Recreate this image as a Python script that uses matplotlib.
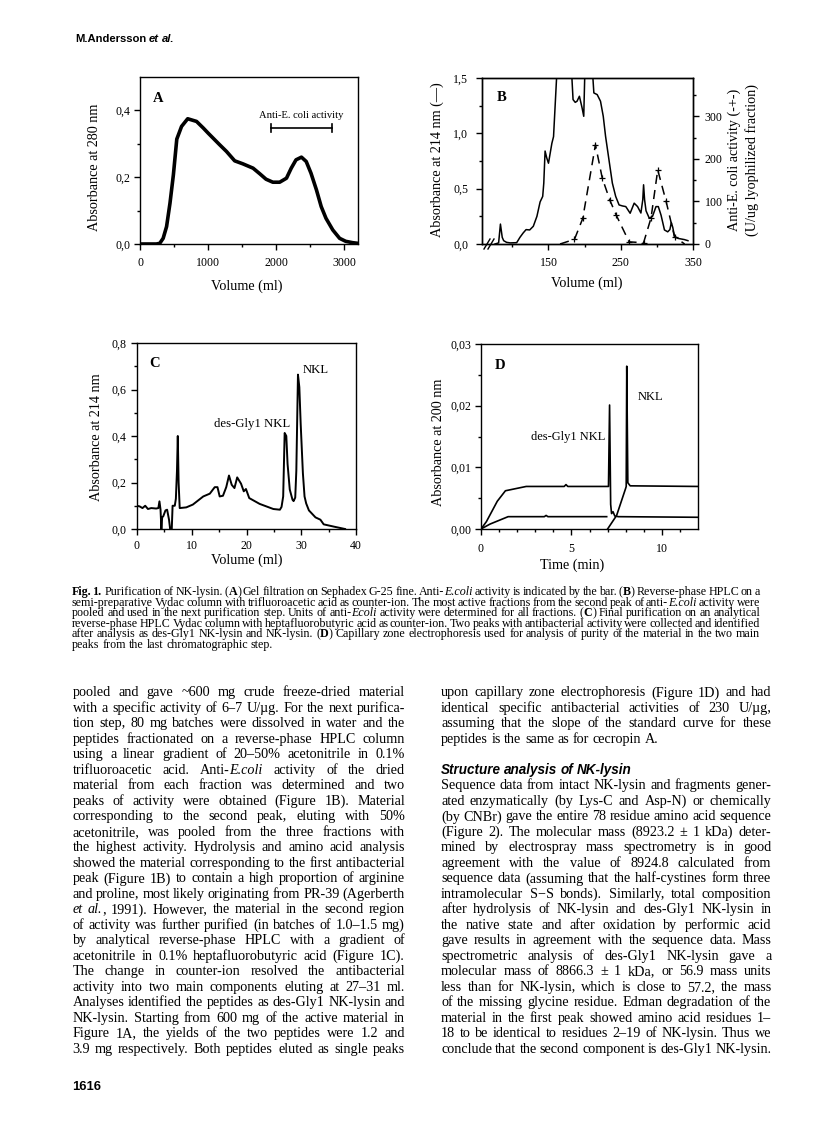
import matplotlib
matplotlib.use("Agg")
import matplotlib.pyplot as plt
from matplotlib.lines import Line2D
from matplotlib.ticker import FixedLocator, FixedFormatter

W, H = 816, 1121
SERIF = "Liberation Serif"
SANS = "Liberation Sans"
plt.rcParams["font.family"] = [SERIF, "DejaVu Serif"]
plt.rcParams["axes.linewidth"] = 1.0

# ---- Panel A: gel filtration on Sephadex G-25
vol_a = [0, 240, 290, 340, 390, 440, 490, 540, 610, 700, 830, 930, 1000, 1170,
         1270, 1390, 1510, 1660, 1760, 1850, 1950, 2050, 2150, 2220, 2290, 2370,
         2440, 2510, 2590, 2660, 2730, 2830, 2930, 3020, 3120, 3200]
abs_a = [0, 0, 0.002, 0.017, 0.052, 0.122, 0.207, 0.314, 0.352, 0.375, 0.367,
         0.347, 0.332, 0.297, 0.277, 0.249, 0.24, 0.227, 0.21, 0.194, 0.185,
         0.185, 0.197, 0.227, 0.252, 0.26, 0.247, 0.212, 0.162, 0.112, 0.077,
         0.042, 0.017, 0.008, 0.004, 0.002]
activity_a = (1917, 2820)   # anti-E. coli activity range (ml)
activity_a_level = 0.347

# ---- Panel B: reverse-phase HPLC, absorbance and activity
vol_b = [76, 81, 83.5, 86, 88, 92, 97, 106, 110.5, 115, 119, 124, 129, 134, 138.4,
         142, 143.5, 145.3, 147.5, 150, 154.7, 157, 161.6, 170, 180, 184, 187,
         189.5, 192.8, 196.5, 198.8, 200.5, 205, 210.5, 212.8, 217.4, 222, 225.8,
         229, 233.7, 238.4, 243, 247.7, 252.3, 257, 263, 268.6, 273.3, 277.9,
         280.5, 281.6, 283, 285, 289.5, 294, 298.8, 302, 305.8, 310.5, 315, 318,
         320, 322, 324.4, 329, 338, 343]
abs_b = [0.0, 0.01, 0.18, 0.06, 0.03, 0.015, 0.01, 0.012, 0.06, 0.10, 0.13, 0.127,
         0.16, 0.25, 0.38, 0.43, 0.55, 0.84, 0.78, 0.73, 0.91, 0.97, 1.55, 1.9,
         1.8, 1.305, 1.28, 1.29, 1.335, 1.23, 1.154, 1.6, 1.8, 1.6, 1.365, 1.35,
         1.29, 1.154, 0.973, 0.761, 0.55, 0.43, 0.353, 0.344, 0.338, 0.278, 0.369,
         0.338, 0.28, 0.40, 0.535, 0.40, 0.30, 0.233, 0.25, 0.338, 0.338, 0.26,
         0.127, 0.11, 0.13, 0.193, 0.15, 0.07, 0.051, 0.04, 0.03]
vol_act = [166, 186, 197.4, 215, 224.4, 234.7, 244, 261.6, 281.6, 291.9, 301.2,
           312.8, 324.4, 338.4]
act_b = [0, 11, 60, 233, 155, 104, 67, 5, 3, 61, 174, 100, 17, 0]

# ---- Panel C: analytical reverse-phase HPLC
vol_c = [0, 0.5, 1.0, 1.5, 2.0, 2.6, 3.5, 3.9, 4.1, 4.3, 4.45, 4.6, 4.8, 5.2, 5.5,
         5.85, 6.05, 6.35, 6.5, 6.9, 7.1, 7.3, 7.45, 7.6, 7.8, 9.0, 10.2, 12.1,
         13.3, 14.2, 14.7, 15.1, 15.7, 16.3, 16.8, 17.3, 17.8, 18.3, 19.0, 19.5,
         19.9, 20.5, 22.4, 24.9, 26.1, 26.4, 26.7, 26.97, 27.27, 27.5, 27.9, 28.4,
         28.6, 28.9, 29.1, 29.4, 29.65, 29.9, 30.3, 30.6, 30.9, 31.4, 32.6, 33.5,
         34.1, 36.0, 38.0]
abs_c = [0.10, 0.097, 0.09, 0.10, 0.086, 0.09, 0.088, 0.09, 0.119, 0.083, 0.0,
         0.05, 0.055, 0.08, 0.083, 0.04, 0.0, 0.0, 0.10, 0.10, 0.13, 0.25, 0.40,
         0.2, 0.09, 0.093, 0.105, 0.14, 0.152, 0.18, 0.18, 0.14, 0.143, 0.18, 0.23,
         0.19, 0.176, 0.222, 0.195, 0.162, 0.172, 0.133, 0.108, 0.086, 0.083,
         0.095, 0.14, 0.413, 0.40, 0.28, 0.17, 0.126, 0.12, 0.135, 0.25, 0.664,
         0.61, 0.45, 0.24, 0.14, 0.11, 0.08, 0.05, 0.04, 0.02, 0.01, 0.0]

# ---- Panel D: capillary zone electrophoresis (three trace pieces)
t_d1 = [0, 0.3, 0.9, 1.35, 2.5, 4.6, 4.7, 4.8, 7.05, 7.11, 7.17, 7.22, 7.3, 7.4, 7.6, 12]
y_d1 = [0, 0.0012, 0.0045, 0.0062, 0.0069, 0.0069, 0.0072, 0.0069, 0.0069, 0.0201,
        0.004, 0.0025, 0.0028, 0.0021, 0.002, 0.0019]
t_d2 = [0, 0.5, 1.5, 3.5, 3.6, 3.7, 6.95]
y_d2 = [0, 0.0008, 0.002, 0.002, 0.0022, 0.002, 0.002]
t_d3 = [7.0, 7.5, 8.0, 8.03, 8.06, 8.12, 8.25, 12]
y_d3 = [0, 0.0022, 0.0066, 0.0069, 0.0264, 0.0075, 0.007, 0.0069]

# ---- tick labels (decimal comma as printed)
yt_a = [0, 0.2, 0.4]
yl_a = ["0,0", "0,2", "0,4"]
yt_b = [0, 0.5, 1.0, 1.5]
yl_b = ["0,0", "0,5", "1,0", "1,5"]
yt_c = [0, 0.2, 0.4, 0.6, 0.8]
yl_c = ["0,0", "0,2", "0,4", "0,6", "0,8"]
yt_d = [0, 0.01, 0.02, 0.03]
yl_d = ["0,00", "0,01", "0,02", "0,03"]

# ---- page text ('_' toggles italic, '*' toggles bold)
HEADER = "M.Andersson _et_ _al._"
CAPTION = [
    "*Fig.* *1.* Purification of NK-lysin. (*A*) Gel filtration on Sephadex G-25 fine. Anti-_E.coli_ activity is indicated by the bar. (*B*) Reverse-phase HPLC on a",
    "semi-preparative Vydac column with trifluoroacetic acid as counter-ion. The most active fractions from the second peak of anti-_E.coli_ activity were",
    "pooled and used in the next purification step. Units of anti-_Ecoli_ activity were determined for all fractions. (*C*) Final purification on an analytical",
    "reverse-phase HPLC Vydac column with heptafluorobutyric acid as counter-ion. Two peaks with antibacterial activity were collected and identified",
    "after analysis as des-Gly1 NK-lysin and NK-lysin. (*D*) Capillary zone electrophoresis used for analysis of purity of the material in the two main",
    "peaks from the last chromatographic step.",
]
LEFT = [
    "pooled and gave ~600 mg crude freeze-dried material",
    "with a specific activity of 6–7 U/µg. For the next purifica-",
    "tion step, 80 mg batches were dissolved in water and the",
    "peptides fractionated on a reverse-phase HPLC column",
    "using a linear gradient of 20–50% acetonitrile in 0.1%",
    "trifluoroacetic acid. Anti-_E.coli_ activity of the dried",
    "material from each fraction was determined and two",
    "peaks of activity were obtained (Figure 1B). Material",
    "corresponding to the second peak, eluting with 50%",
    "acetonitrile, was pooled from the three fractions with",
    "the highest activity. Hydrolysis and amino acid analysis",
    "showed the material corresponding to the first antibacterial",
    "peak (Figure 1B) to contain a high proportion of arginine",
    "and proline, most likely originating from PR-39 (Agerberth",
    "_et_ _al._, 1991). However, the material in the second region",
    "of activity was further purified (in batches of 1.0–1.5 mg)",
    "by analytical reverse-phase HPLC with a gradient of",
    "acetonitrile in 0.1% heptafluorobutyric acid (Figure 1C).",
    "The change in counter-ion resolved the antibacterial",
    "activity into two main components eluting at 27–31 ml.",
    "Analyses identified the peptides as des-Gly1 NK-lysin and",
    "NK-lysin. Starting from 600 mg of the active material in",
    "Figure 1A, the yields of the two peptides were 1.2 and",
    "3.9 mg respectively. Both peptides eluted as single peaks",
]
RIGHT_TOP = [
    "upon capillary zone electrophoresis (Figure 1D) and had",
    "identical specific antibacterial activities of 230 U/µg,",
    "assuming that the slope of the standard curve for these",
    "peptides is the same as for cecropin A.",
]
HEADING = "Structure analysis of NK-lysin"
RIGHT_BOTTOM = [
    "Sequence data from intact NK-lysin and fragments gener-",
    "ated enzymatically (by Lys-C and Asp-N) or chemically",
    "(by CNBr) gave the entire 78 residue amino acid sequence",
    "(Figure 2). The molecular mass (8923.2 ± 1 kDa) deter-",
    "mined by electrospray mass spectrometry is in good",
    "agreement with the value of 8924.8 calculated from",
    "sequence data (assuming that the half-cystines form three",
    "intramolecular S−S bonds). Similarly, total composition",
    "after hydrolysis of NK-lysin and des-Gly1 NK-lysin in",
    "the native state and after oxidation by performic acid",
    "gave results in agreement with the sequence data. Mass",
    "spectrometric analysis of des-Gly1 NK-lysin gave a",
    "molecular mass of 8866.3 ± 1 kDa, or 56.9 mass units",
    "less than for NK-lysin, which is close to 57.2, the mass",
    "of the missing glycine residue. Edman degradation of the",
    "material in the first peak showed amino acid residues 1–",
    "18 to be identical to residues 2–19 of NK-lysin. Thus we",
    "conclude that the second component is des-Gly1 NK-lysin.",
]
PAGE = "1616"

fig = plt.figure(figsize=(W / 100, H / 100), dpi=100)
fig.patch.set_facecolor("white")
R = fig.canvas.get_renderer()


def add_axes_px(l, r, t, b):
    return fig.add_axes([l / W, 1 - b / H, (r - l) / W, (b - t) / H])


def setup(ax, xlim, ylim, xmaj, xmin, ymaj, ylab, ymin, xpad, ypad):
    ax.set_xlim(*xlim)
    ax.set_ylim(*ylim)
    ax.xaxis.set_major_locator(FixedLocator(xmaj))
    ax.xaxis.set_minor_locator(FixedLocator(xmin))
    ax.yaxis.set_major_locator(FixedLocator(ymaj))
    ax.yaxis.set_major_formatter(FixedFormatter(ylab))
    ax.yaxis.set_minor_locator(FixedLocator(ymin))
    ax.tick_params(which="both", direction="out", width=1.0, labelsize=8.6)
    ax.tick_params(which="major", length=4)
    ax.tick_params(which="minor", length=2.5)
    ax.tick_params(axis="x", which="both", pad=xpad)
    ax.tick_params(axis="y", which="both", pad=ypad)


def label_px(x, y, s, rot=0, size=10.2, **kw):
    fig.text(x / W, 1 - y / H, s, rotation=rot, ha="center", va="center",
             fontsize=size, **kw)


# ---------------- Panel A
ax = add_axes_px(140, 358, 77, 244)
ax.plot(vol_a, abs_a, color="black", lw=2.6, solid_joinstyle="round")
setup(ax, (0, 3200), (0, 0.5), [0, 1000, 2000, 3000], [500, 1500, 2500],
      yt_a, yl_a, [0.1, 0.3], 5.3, 2.9)
ax.plot(activity_a, [activity_a_level] * 2, color="black", lw=1.2)
for xe in activity_a:
    ax.plot([xe, xe], [activity_a_level - 0.011, activity_a_level + 0.011],
            color="black", lw=1.2)
ax.text(sum(activity_a) / 2, activity_a_level + 0.037, "Anti-E. coli activity",
        ha="center", va="center", fontsize=7.6)
ax.text(0.083, 0.87, "A", transform=ax.transAxes, ha="center", va="center",
        fontsize=10.5, fontweight="bold")
label_px(95, 167, "Absorbance at 280 nm", rot=90)
label_px(247, 286, "Volume (ml)")

# ---------------- Panel B
ax = add_axes_px(482, 693, 78, 244)
ax.plot(vol_b, abs_b, color="black", lw=1.1)
setup(ax, (58, 350), (0, 1.5), [150, 250, 350], [100, 200, 300],
      yt_b, yl_b, [0.25, 0.75, 1.25], 5.3, 5.8)
ax2 = ax.twinx()
ax2.set_ylim(0, 390)
ax2.yaxis.set_major_locator(FixedLocator([0, 100, 200, 300]))
ax2.yaxis.set_minor_locator(FixedLocator([50, 150, 250, 350]))
ax2.tick_params(which="both", direction="out", width=1.0, labelsize=8.6, pad=4.3)
ax2.tick_params(which="major", length=4)
ax2.tick_params(which="minor", length=2.5)
ax2.plot(vol_act, act_b, color="black", lw=1.1, ls=(0, (6, 4)), marker="+",
         ms=5, mew=0.9, markevery=list(range(1, len(vol_act) - 1)))
ax.text(0.095, 0.885, "B", transform=ax.transAxes, ha="center", va="center",
        fontsize=10.5, fontweight="bold")
for dx in (0, 4):
    fig.add_artist(Line2D([(484 + dx) / W, (490 + dx) / W],
                          [1 - 249 / H, 1 - 239 / H], color="black", lw=1.0))
label_px(437, 160, "Absorbance at 214 nm (—)", rot=90)
label_px(743, 160, "Anti-E. coli activity (-+-)\n(U/ug lyophilized fraction)",
         rot=90, linespacing=1.4)
label_px(587, 283, "Volume (ml)")

# ---------------- Panel C
ax = add_axes_px(137, 356, 343, 529)
ax.plot(vol_c, abs_c, color="black", lw=1.4)
setup(ax, (0, 40), (0, 0.8), [0, 10, 20, 30, 40], [5, 15, 25, 35],
      yt_c, yl_c, [0.1, 0.3, 0.5, 0.7], 4.0, 3.6)
ax.text(0.082, 0.89, "C", transform=ax.transAxes, ha="center", va="center",
        fontsize=10.5, fontweight="bold")
ax.text(32.6, 0.685, "NKL", ha="center", va="center", fontsize=9.2)
ax.text(21.1, 0.453, "des-Gly1 NKL", ha="center", va="center", fontsize=9.2)
label_px(97, 437, "Absorbance at 214 nm", rot=90)
label_px(247, 560, "Volume (ml)")

# ---------------- Panel D
ax = add_axes_px(481, 698, 344, 529)
for tt, yy in ((t_d1, y_d1), (t_d2, y_d2), (t_d3, y_d3)):
    ax.plot(tt, yy, color="black", lw=1.2)
setup(ax, (0, 12), (0, 0.03), [0, 5, 10], [1, 2, 3, 4, 6, 7, 8, 9, 11],
      yt_d, yl_d, [0.005, 0.015, 0.025], 6.2, 2.9)
ax.text(0.088, 0.886, "D", transform=ax.transAxes, ha="center", va="center",
        fontsize=10.5, fontweight="bold")
ax.text(9.35, 0.0214, "NKL", ha="center", va="center", fontsize=9)
ax.text(4.8, 0.0149, "des-Gly1 NKL", ha="center", va="center", fontsize=9)
label_px(438, 442, "Absorbance at 200 nm", rot=90)
label_px(572, 565, "Time (min)")


# ---------------- running text, set word by word so lines are justified
def segments(word, it, bd):
    out, cur = [], ""
    for ch in word:
        if ch in "_*":
            if cur:
                out.append((cur, it, bd))
                cur = ""
            if ch == "_":
                it = not it
            else:
                bd = not bd
        else:
            cur += ch
    if cur:
        out.append((cur, it, bd))
    return out


def make_words(line, size, family, italic=False, bold=False):
    words = []
    for w in line.split():
        parts = []
        for s, it, bd in segments(w, italic, bold):
            t = fig.text(0, 0, s, fontsize=size, family=family, va="baseline",
                         style="italic" if it else "normal",
                         weight="bold" if bd else "normal")
            parts.append((t, t.get_window_extent(R).width))
        words.append(parts)
    return words


def natural_width(line, size, family=SERIF, space=0.25, **kw):
    words = make_words(line, size, family, **kw)
    total = sum(w for p in words for _, w in p)
    total += space * size * 100 / 72 * (len(words) - 1)
    for p in words:
        for t, _ in p:
            t.remove()
    return total


def set_line(line, x0, x1, y, size, family=SERIF, justify=True, **kw):
    words = make_words(line, size, family, **kw)
    widths = [sum(w for _, w in p) for p in words]
    gap = 0.25 * size * 100 / 72
    if justify and len(words) > 1:
        gap = (x1 - x0 - sum(widths)) / (len(words) - 1)
    base = y + 0.33 * size * 100 / 72
    x = x0
    for p, wsum in zip(words, widths):
        for t, w in p:
            t.set_position((x / W, 1 - base / H))
            x += w
        x += gap


def fit(line, width, family=SERIF, space=0.25, **kw):
    return 10 * width / natural_width(line, 10, family, space, **kw)


# header and page number
set_line(HEADER, 75, 175, 38, fit(HEADER, 100, SANS, bold=True), SANS,
         justify=False, bold=True)
set_line(PAGE, 72.5, 101.5, 1086, fit(PAGE, 29, SANS, bold=True), SANS,
         justify=False, bold=True)

# caption (tight word spacing, as typeset)
cap_size = min(fit(c, 688, space=0.14) for c in CAPTION[:-1])
for i, line in enumerate(CAPTION):
    set_line(line, 72, 760, 591 + i * 10.6, cap_size,
             justify=i < len(CAPTION) - 1)

# body columns
body_size = fit(LEFT[11], 332.5)
LINE = 15.5
TOP = 691.7
for i, line in enumerate(LEFT):
    set_line(line, 72.5, 405, TOP + i * LINE, body_size)
for i, line in enumerate(RIGHT_TOP):
    set_line(line, 441, 771.5, TOP + i * LINE, body_size,
             justify=i < len(RIGHT_TOP) - 1)
set_line(HEADING, 441, 633, TOP + 5 * LINE,
         fit(HEADING, 192, SANS, italic=True, bold=True), SANS,
         justify=False, italic=True, bold=True)
for i, line in enumerate(RIGHT_BOTTOM):
    set_line(line, 441, 771.5, TOP + (6 + i) * LINE, body_size)

fig.savefig("out.png", dpi=100, facecolor="white")
